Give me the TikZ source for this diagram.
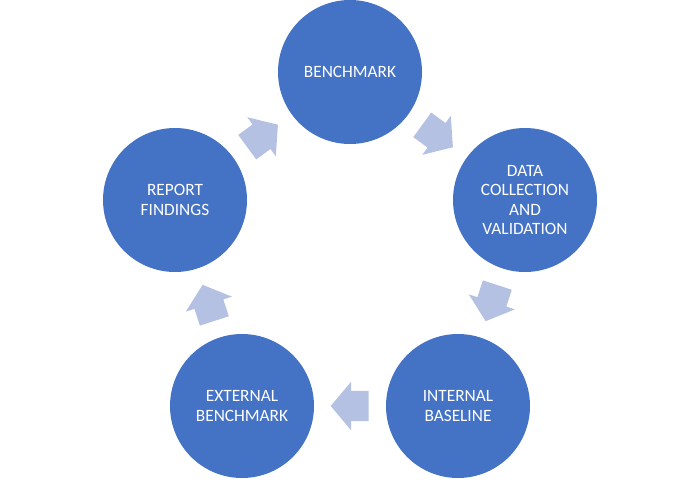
\documentclass[tikz,border=0pt]{standalone}
\usepackage{fontspec}
\setmainfont{Carlito}
\usetikzlibrary{shapes.arrows}
\definecolor{cblue}{HTML}{4472C4}
\definecolor{ablue}{HTML}{B4C1E3}
\begin{document}
\begin{tikzpicture}[x=1pt,y=-1pt,
  stage/.style={circle, fill=cblue, minimum size=144pt, inner sep=0pt, text=white,
    font=\fontsize{17.3}{19.5}\selectfont, align=center},
  cyclearrow/.style={single arrow, fill=ablue, draw=none, minimum height=38pt,
    minimum width=48pt, single arrow head extend=9pt, single arrow tip angle=100,
    inner sep=0pt, sloped, allow upside down, anchor=tail}]
\useasboundingbox (0,0) rectangle (700,479);
\node[stage] (bench) at (350,72) {BENCHMARK};
\node[stage] (data) at (525,200) {DATA\\COLLECTION\\AND\\VALIDATION};
\node[stage] (inter) at (458,406) {INTERNAL\\BASELINE};
\node[stage] (exter) at (242,406) {EXTERNAL\\BENCHMARK};
\node[stage] (report) at (175,200) {REPORT\\FINDINGS};
\path (bench) -- (data) node[pos=0.236, cyclearrow] (a1) {\rule{0pt}{30pt}};
\path (data) -- (inter) node[pos=0.236, cyclearrow] (a2) {\rule{0pt}{30pt}};
\path (inter) -- (exter) node[pos=0.236, cyclearrow] (a3) {\rule{0pt}{30pt}};
\path (exter) -- (report) node[pos=0.236, cyclearrow] (a4) {\rule{0pt}{30pt}};
\path (report) -- (bench) node[pos=0.236, cyclearrow] (a5) {\rule{0pt}{30pt}};
\end{tikzpicture}
\end{document}
